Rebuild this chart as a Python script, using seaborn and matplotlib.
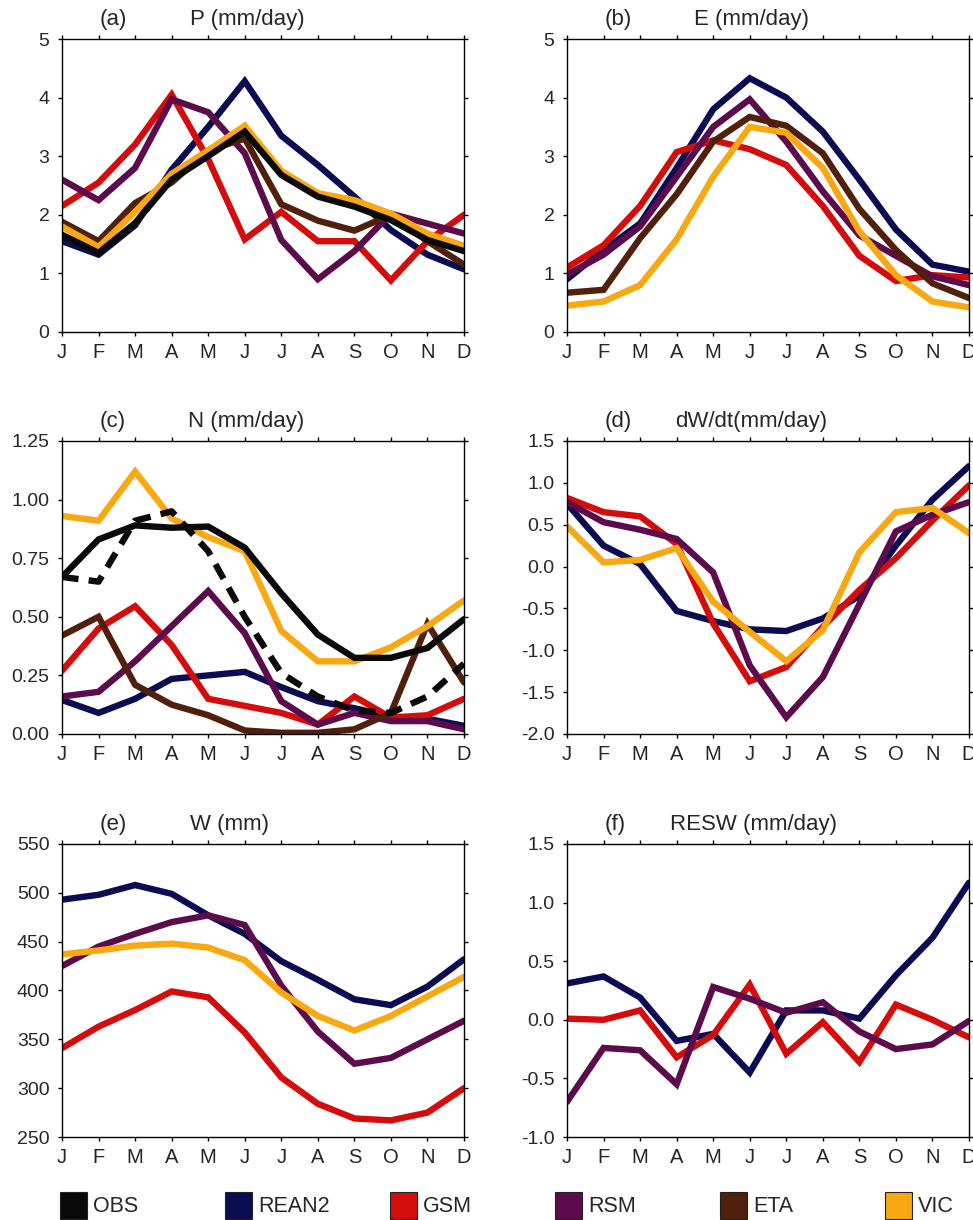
import numpy as np
import pandas as pd
import matplotlib
matplotlib.use("Agg")
import matplotlib.pyplot as plt
import matplotlib.patches as patches
import seaborn as sns

months = ["J", "F", "M", "A", "M", "J", "J", "A", "S", "O", "N", "D"]

colors = {
    "OBS": "#0a0a0a",
    "REAN2": "#0c0c52",
    "GSM": "#d40c0c",
    "RSM": "#5c0c4c",
    "ETA": "#50200c",
    "VIC": "#f8a810",
}

# (a) precipitation
p_rean2 = [1.55, 1.32, 1.82, 2.77, 3.50, 4.28, 3.35, 2.85, 2.31, 1.74, 1.32, 1.07]
p_gsm = [2.15, 2.55, 3.20, 4.05, 2.95, 1.58, 2.05, 1.55, 1.55, 0.88, 1.55, 2.00]
p_rsm = [2.60, 2.25, 2.80, 3.97, 3.75, 3.05, 1.57, 0.90, 1.38, 2.02, 1.85, 1.68]
p_eta = [1.88, 1.55, 2.20, 2.55, 3.10, 3.30, 2.18, 1.90, 1.73, 2.00, 1.55, 1.15]
p_vic = [1.80, 1.45, 2.05, 2.70, 3.10, 3.52, 2.75, 2.37, 2.25, 2.02, 1.68, 1.47]
p_obs = [1.66, 1.35, 1.86, 2.60, 3.00, 3.42, 2.68, 2.31, 2.14, 1.91, 1.57, 1.38]

# (b) evaporation
e_rean2 = [0.90, 1.40, 1.85, 2.80, 3.80, 4.33, 4.00, 3.42, 2.60, 1.75, 1.15, 1.03]
e_gsm = [1.10, 1.48, 2.15, 3.07, 3.27, 3.12, 2.85, 2.15, 1.30, 0.87, 0.97, 0.93]
e_rsm = [0.98, 1.32, 1.80, 2.65, 3.50, 3.97, 3.25, 2.40, 1.65, 1.30, 0.95, 0.80]
e_eta = [0.67, 0.72, 1.60, 2.35, 3.25, 3.67, 3.52, 3.05, 2.10, 1.40, 0.83, 0.58]
e_vic = [0.45, 0.52, 0.80, 1.58, 2.65, 3.50, 3.40, 2.80, 1.72, 0.97, 0.52, 0.42]

# (c) runoff
n_rean2 = [0.145, 0.09, 0.15, 0.235, 0.25, 0.265, 0.20, 0.14, 0.11, 0.075, 0.065, 0.035]
n_gsm = [0.27, 0.45, 0.545, 0.38, 0.15, 0.12, 0.09, 0.04, 0.16, 0.07, 0.08, 0.15]
n_rsm = [0.16, 0.18, 0.31, 0.46, 0.61, 0.43, 0.14, 0.04, 0.09, 0.055, 0.055, 0.02]
n_eta = [0.42, 0.50, 0.21, 0.125, 0.08, 0.015, 0.005, 0.005, 0.02, 0.09, 0.47, 0.22]
n_vic = [0.93, 0.91, 1.12, 0.92, 0.84, 0.78, 0.44, 0.31, 0.31, 0.37, 0.46, 0.57]
n_obs = [0.67, 0.83, 0.89, 0.88, 0.885, 0.795, 0.60, 0.424, 0.325, 0.325, 0.367, 0.49]
n_obs2 = [0.67, 0.65, 0.91, 0.95, 0.78, 0.50, 0.26, 0.16, 0.10, 0.09, 0.16, 0.30]

# (d) dW/dt
d_rean2 = [0.75, 0.25, 0.03, -0.53, -0.65, -0.75, -0.77, -0.62, -0.35, 0.25, 0.80, 1.20]
d_gsm = [0.82, 0.65, 0.60, 0.27, -0.68, -1.37, -1.20, -0.72, -0.28, 0.10, 0.55, 0.97]
d_rsm = [0.77, 0.53, 0.44, 0.33, -0.07, -1.18, -1.80, -1.32, -0.45, 0.42, 0.62, 0.77]
d_vic = [0.48, 0.05, 0.08, 0.22, -0.42, -0.78, -1.13, -0.76, 0.17, 0.65, 0.70, 0.40]

# (e) soil water
w_rean2 = [493, 498, 508, 499, 477, 458, 430, 411, 391, 385, 404, 432]
w_gsm = [341, 363, 380, 399, 393, 357, 311, 284, 269, 267, 275, 300]
w_rsm = [425, 445, 458, 470, 477, 467, 405, 358, 325, 331, 350, 369]
w_vic = [437, 441, 446, 448, 444, 431, 398, 374, 359, 374, 394, 414]

# (f) residual
r_rean2 = [0.31, 0.37, 0.19, -0.18, -0.12, -0.45, 0.08, 0.08, 0.01, 0.38, 0.70, 1.17]
r_gsm = [0.01, 0.00, 0.08, -0.32, -0.13, 0.30, -0.29, -0.02, -0.36, 0.13, 0.00, -0.15]
r_rsm = [-0.70, -0.24, -0.26, -0.55, 0.28, 0.18, 0.06, 0.15, -0.10, -0.25, -0.21, -0.01]

panels = [
    ("(a)", "P (mm/day)", 0.318, [("REAN2", p_rean2), ("GSM", p_gsm), ("RSM", p_rsm),
                                  ("ETA", p_eta), ("VIC", p_vic), ("OBS", p_obs)],
     np.arange(0, 6, 1), "{:.0f}", (0, 5)),
    ("(b)", "E (mm/day)", 0.316, [("REAN2", e_rean2), ("GSM", e_gsm), ("RSM", e_rsm),
                                  ("ETA", e_eta), ("VIC", e_vic)],
     np.arange(0, 6, 1), "{:.0f}", (0, 5)),
    ("(c)", "N (mm/day)", 0.313, [("REAN2", n_rean2), ("GSM", n_gsm), ("RSM", n_rsm),
                                  ("ETA", n_eta), ("VIC", n_vic), ("OBS", n_obs)],
     np.arange(0, 1.5, 0.25), "{:.2f}", (0, 1.25)),
    ("(d)", "dW/dt(mm/day)", 0.269, [("REAN2", d_rean2), ("GSM", d_gsm), ("RSM", d_rsm),
                                     ("VIC", d_vic)],
     np.arange(-2.0, 2.0, 0.5), "{:.1f}", (-2.0, 1.5)),
    ("(e)", "W (mm)", 0.318, [("REAN2", w_rean2), ("GSM", w_gsm), ("RSM", w_rsm),
                              ("VIC", w_vic)],
     np.arange(250, 600, 50), "{:.0f}", (250, 550)),
    ("(f)", "RESW (mm/day)", 0.256, [("REAN2", r_rean2), ("GSM", r_gsm), ("RSM", r_rsm)],
     np.arange(-1.0, 2.0, 0.5), "{:.1f}", (-1.0, 1.5)),
]

sns.set_style("ticks")
plt.rcParams["font.family"] = ["Liberation Sans", "DejaVu Sans"]
plt.rcParams["axes.unicode_minus"] = False

fig = plt.figure(figsize=(9.73, 12.2), dpi=100)

lefts = [62 / 973, 567 / 973]
bottoms = [1 - 332 / 1220, 1 - 734 / 1220, 1 - 1137 / 1220]
w, h = 402 / 973, 293 / 1220
x = np.arange(12)
lw = 4.6

for i, (tag, title, tx, series, yticks, fmt, ylim) in enumerate(panels):
    ax = fig.add_axes([lefts[i % 2], bottoms[i // 2], w, h])
    for name, vals in series:
        df = pd.DataFrame({"month": x, "value": vals})
        sns.lineplot(data=df, x="month", y="value", ax=ax, color=colors[name],
                     lw=lw, solid_joinstyle="miter")
    if tag == "(c)":
        df = pd.DataFrame({"month": x, "value": n_obs2})
        sns.lineplot(data=df, x="month", y="value", ax=ax, color=colors["OBS"],
                     lw=lw, dashes=False, linestyle=(0, (2.6, 1.6)))
    ax.set_xlim(0, 11)
    ax.set_ylim(*ylim)
    ax.set_xticks(x)
    ax.set_xticklabels(months, fontsize=14.5)
    ax.set_yticks(yticks)
    ax.set_yticklabels([fmt.format(v) for v in yticks], fontsize=14)
    ax.set_xlabel("")
    ax.set_ylabel("")
    ax.tick_params(direction="out", length=3, width=1, top=True, right=True,
                   labeltop=False, labelright=False, color="black")
    ax.tick_params(axis="y", pad=6)
    ax.tick_params(axis="x", pad=5)
    for s in ax.spines.values():
        s.set_visible(True)
        s.set_linewidth(1.0)
        s.set_color("black")
    ax.text(0.094, 1.068, tag, transform=ax.transAxes, fontsize=16,
            ha="left", va="center")
    ax.text(tx, 1.068, title, transform=ax.transAxes, fontsize=16,
            ha="left", va="center")

# legend along the bottom
names = ["OBS", "REAN2", "GSM", "RSM", "ETA", "VIC"]
for k, name in enumerate(names):
    x0 = 60 + 165 * k
    fig.patches.append(patches.Rectangle((x0 / 973, 1 - 1219 / 1220), 27 / 973, 27 / 1220,
                                         transform=fig.transFigure, facecolor=colors[name],
                                         edgecolor="#222222", linewidth=0.8))
    fig.text((x0 + 33) / 973, 1 - 1207 / 1220, name, fontsize=15.5,
             ha="left", va="center")

fig.savefig("out.png", dpi=100)
